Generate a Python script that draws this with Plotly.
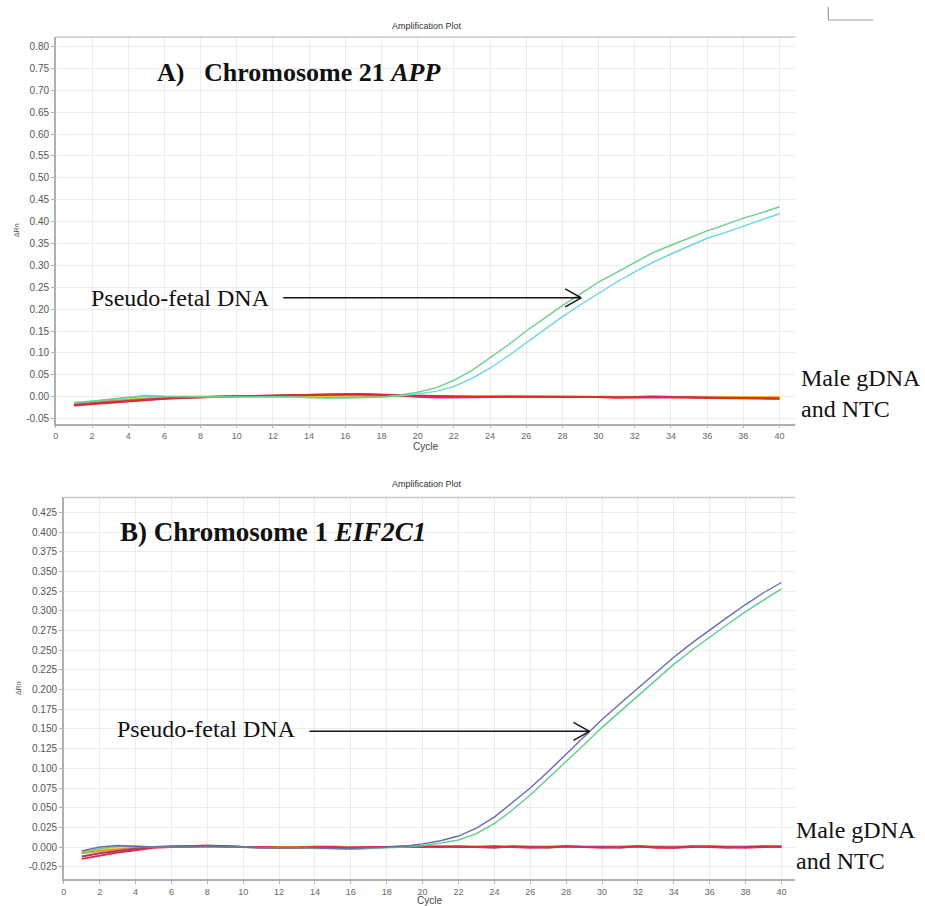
import plotly.graph_objects as go

W, H = 925, 906

cycles = list(range(1, 41))

# ---- Panel A: Chromosome 21 APP (delta Rn per cycle) ----
app_green = [-0.015, -0.011, -0.006, -0.001, 0.003, 0.001, 0.000, 0.000, 0.000, 0.000,
             0.000, 0.001, 0.000, -0.002, -0.003, -0.003, -0.002, -0.001, 0.004, 0.010,
             0.020, 0.037, 0.060, 0.088, 0.118, 0.150, 0.180, 0.208, 0.235, 0.262,
             0.284, 0.306, 0.329, 0.346, 0.363, 0.379, 0.393, 0.408, 0.420, 0.434]
app_cyan = [-0.014, -0.010, -0.006, -0.002, 0.001, 0.000, 0.000, 0.000, 0.000, 0.000,
            0.000, 0.000, -0.001, -0.002, -0.003, -0.002, -0.002, -0.001, 0.002, 0.006,
            0.012, 0.023, 0.042, 0.065, 0.093, 0.123, 0.153, 0.183, 0.210, 0.237,
            0.262, 0.285, 0.307, 0.326, 0.344, 0.362, 0.375, 0.390, 0.404, 0.418]
app_red = [-0.020, -0.017, -0.013, -0.010, -0.007, -0.005, -0.003, -0.001, 0.000, 0.001,
           0.001, 0.002, 0.003, 0.004, 0.005, 0.005, 0.005, 0.004, 0.003, 0.002,
           0.001, 0.000, 0.000, 0.000, 0.000, 0.000, -0.001, -0.001, -0.001, -0.001,
           -0.002, -0.002, -0.001, -0.002, -0.002, -0.003, -0.003, -0.004, -0.004, -0.005]
app_magenta = [-0.018, -0.015, -0.012, -0.009, -0.006, -0.004, -0.002, -0.001, 0.000, 0.001,
               0.002, 0.003, 0.004, 0.005, 0.006, 0.006, 0.006, 0.005, 0.003, 0.000,
               -0.002, -0.002, -0.001, 0.000, 0.000, 0.000, 0.000, -0.001, -0.001, -0.001,
               -0.002, -0.001, 0.000, -0.001, -0.002, -0.002, -0.003, -0.003, -0.003, -0.004]
app_orange = [-0.016, -0.013, -0.010, -0.007, -0.005, -0.003, -0.002, 0.000, 0.000, 0.001,
              0.001, 0.002, 0.002, 0.003, 0.003, 0.003, 0.003, 0.002, 0.002, 0.001,
              0.001, 0.001, 0.001, 0.000, 0.000, 0.000, 0.000, 0.000, -0.001, -0.001,
              -0.001, -0.001, 0.001, -0.001, -0.001, -0.001, -0.002, -0.002, -0.002, -0.002]
app_yellow = [-0.014, -0.011, -0.008, -0.005, -0.003, -0.001, 0.000, 0.000, 0.001, 0.001,
              0.001, 0.001, 0.001, 0.001, 0.001, 0.001, 0.001, 0.001, 0.001, 0.001,
              0.001, 0.000, 0.000, 0.000, 0.000, 0.000, 0.000, 0.000, 0.000, 0.000,
              0.000, 0.000, 0.000, 0.000, 0.000, 0.000, -0.001, -0.001, -0.001, -0.001]

# ---- Panel B: Chromosome 1 EIF2C1 (delta Rn per cycle) ----
eif_blue = [-0.005, 0.000, 0.002, 0.001, 0.000, 0.000, 0.000, 0.001, 0.000, 0.000,
            -0.001, -0.001, -0.001, -0.001, -0.002, -0.002, -0.001, 0.000, 0.001, 0.004,
            0.008, 0.014, 0.024, 0.038, 0.056, 0.075, 0.096, 0.118, 0.140, 0.162,
            0.182, 0.202, 0.222, 0.241, 0.259, 0.276, 0.292, 0.308, 0.323, 0.336]
eif_green = [-0.008, -0.002, 0.001, 0.001, 0.000, 0.000, 0.000, 0.000, 0.000, 0.000,
             -0.001, -0.001, -0.001, -0.002, -0.002, -0.003, -0.002, -0.001, 0.000, 0.002,
             0.005, 0.009, 0.017, 0.030, 0.047, 0.066, 0.087, 0.108, 0.130, 0.152,
             0.172, 0.193, 0.213, 0.232, 0.250, 0.267, 0.283, 0.299, 0.314, 0.328]
eif_red = [-0.015, -0.011, -0.007, -0.004, -0.001, 0.000, 0.001, 0.002, 0.001, 0.000,
           0.000, -0.001, -0.001, 0.000, 0.000, -0.001, 0.000, 0.000, 0.001, 0.000,
           0.001, 0.000, 0.000, 0.001, 0.000, -0.001, 0.000, 0.001, 0.000, -0.001,
           0.000, 0.001, -0.001, -0.001, 0.000, 0.001, 0.000, -0.001, 0.000, 0.001]
eif_purple = [-0.012, -0.008, -0.005, -0.002, 0.000, 0.001, 0.001, 0.001, 0.001, 0.000,
              -0.001, -0.001, -0.001, -0.001, -0.001, -0.002, -0.001, 0.000, 0.000, 0.001,
              0.000, 0.001, 0.000, -0.001, 0.001, 0.000, -0.001, 0.001, 0.000, 0.000,
              -0.001, 0.001, 0.000, -0.001, 0.001, 0.000, -0.001, 0.000, 0.001, 0.000]
eif_orange = [-0.008, -0.005, -0.003, -0.001, 0.000, 0.000, 0.001, 0.001, 0.001, 0.000,
              0.000, 0.000, 0.000, 0.000, 0.000, 0.000, 0.000, 0.000, 0.000, 0.000,
              0.000, 0.000, 0.000, 0.000, 0.000, 0.000, 0.000, 0.000, 0.000, 0.000,
              0.000, 0.000, 0.000, 0.000, 0.000, 0.000, 0.000, 0.000, 0.000, 0.000]
eif_yellow = [-0.006, -0.003, -0.001, 0.000, 0.000, 0.000, 0.000, 0.000, 0.000, 0.000,
              0.000, 0.000, 0.000, 0.001, 0.001, 0.000, 0.000, 0.000, 0.000, 0.000,
              0.000, 0.001, 0.001, 0.001, 0.001, 0.001, 0.001, 0.001, 0.001, 0.001,
              0.001, 0.001, 0.001, 0.001, 0.001, 0.001, 0.001, 0.001, 0.001, 0.001]

x_ticks = list(range(0, 41, 2))
a_yticks = [round(-0.05 + 0.05 * i, 2) for i in range(18)]
b_yticks = [round(-0.025 + 0.025 * i, 3) for i in range(19)]


def px(x):
    return x / W


def py(y):
    return 1 - y / H


fig = go.Figure()

panel_a = [(app_yellow, "#e6d23a", 2), (app_orange, "#f0902c", 2),
           (app_magenta, "#b03a9a", 2), (app_red, "#e02a2a", 2),
           (app_cyan, "#66d8e0", 1.4), (app_green, "#6ccf8a", 1.4)]
for vals, col, w in panel_a:
    fig.add_trace(go.Scatter(x=cycles, y=vals, mode="lines", xaxis="x", yaxis="y",
                             line=dict(color=col, width=w), showlegend=False))

panel_b = [(eif_yellow, "#e6d23a", 2), (eif_orange, "#f0902c", 2),
           (eif_purple, "#a0406a", 2), (eif_red, "#e02a4a", 2),
           (eif_green, "#5ccf86", 1.4), (eif_blue, "#6a6ab4", 1.4)]
for vals, col, w in panel_b:
    fig.add_trace(go.Scatter(x=cycles, y=vals, mode="lines", xaxis="x2", yaxis="y2",
                             line=dict(color=col, width=w), showlegend=False))

tick_font = dict(family="Liberation Sans, Arial", size=10, color="#555555")
xtick_font = dict(family="Liberation Sans, Arial", size=9, color="#666666")
common_x = dict(tickmode="array", tickvals=x_ticks, ticktext=[str(t) for t in x_ticks],
                showgrid=True, gridcolor="#ececec", gridwidth=1, zeroline=False,
                showline=True, linecolor="#b0b0b0", linewidth=1.5,
                ticks="outside", ticklen=3, tickcolor="#b0b0b0", tickfont=xtick_font)
common_y = dict(showgrid=True, gridcolor="#ececec", gridwidth=1, zeroline=False,
                showline=True, linecolor="#b0b0b0", linewidth=1.5,
                ticks="outside", ticklen=3, tickcolor="#b0b0b0", tickfont=tick_font)

fig.update_layout(
    width=W, height=H,
    margin=dict(l=0, r=0, t=0, b=0),
    paper_bgcolor="white", plot_bgcolor="white",
    xaxis=dict(domain=[px(53), px(795)], range=[0, 40.88], anchor="y",
               title=dict(text="Cycle", font=dict(family="Liberation Sans, Arial", size=10,
                                                  color="#444444"), standoff=2),
               **common_x),
    yaxis=dict(domain=[py(424), py(37)], range=[-0.0614, 0.822], anchor="x",
               tickmode="array", tickvals=a_yticks,
               ticktext=[f"{v:.2f}" for v in a_yticks],
               title=dict(text="ΔRn", font=dict(family="Liberation Sans, Arial", size=7,
                                                color="#555555"), standoff=6),
               **common_y),
    xaxis2=dict(domain=[px(61), px(795)], range=[0, 40.78], anchor="y2",
                title=dict(text="Cycle", font=dict(family="Liberation Sans, Arial", size=10,
                                                   color="#444444"), standoff=0),
                **common_x),
    yaxis2=dict(domain=[py(880), py(498)], range=[-0.0406, 0.444], anchor="x2",
                tickmode="array", tickvals=b_yticks,
                ticktext=[f"{v:.3f}" for v in b_yticks],
                title=dict(text="ΔRn", font=dict(family="Liberation Sans, Arial", size=7,
                                                 color="#555555"), standoff=6),
                **common_y),
)

serif = "Liberation Serif, Times New Roman, serif"
nb = "\u00a0"
annotations = [
    dict(x=px(425), y=py(26), text="Amplification Plot",
         font=dict(family="Liberation Sans, Arial", size=9, color="#333333")),
    dict(x=px(425), y=py(485), text="Amplification Plot",
         font=dict(family="Liberation Sans, Arial", size=9, color="#333333")),
    dict(x=px(152), y=py(73), xanchor="left",
         text=f"<b>A){nb}{nb}{nb}Chromosome 21 <i>APP</i></b>",
         font=dict(family=serif, size=26, color="#111111")),
    dict(x=px(115), y=py(533), xanchor="left",
         text="<b>B) Chromosome 1 <i>EIF2C1</i></b>",
         font=dict(family=serif, size=27, color="#111111")),
    dict(x=px(86), y=py(298), xanchor="left", text="Pseudo-fetal DNA",
         font=dict(family=serif, size=24, color="#111111")),
    dict(x=px(112), y=py(730), xanchor="left", text="Pseudo-fetal DNA",
         font=dict(family=serif, size=24, color="#111111")),
    dict(x=px(799), y=py(394), xanchor="left", align="left",
         text="Male gDNA<br>and NTC",
         font=dict(family=serif, size=24, color="#111111")),
    dict(x=px(794), y=py(846), xanchor="left", align="left",
         text="Male gDNA<br>and NTC",
         font=dict(family=serif, size=24, color="#111111")),
]
for a in annotations:
    a.update(xref="paper", yref="paper", showarrow=False, yanchor="middle")
    a.setdefault("xanchor", "center")
fig.update_layout(annotations=annotations)

shapes = []
# Top frame line of each panel
for xr, yr in (("x domain", "y domain"), ("x2 domain", "y2 domain")):
    shapes.append(dict(type="line", xref=xr, yref=yr, x0=0, x1=1, y0=1, y1=1,
                       line=dict(color="#c8c8c8", width=1.5)))


def arrow(xa, ya, length, xref, yref):
    # shaft plus an open chevron head, sized in pixels around the tip
    out = []
    for x0, y0 in ((-length, 0), (-16, 9), (-16, -9)):
        out.append(dict(type="line", xref=xref, yref=yref,
                        xsizemode="pixel", ysizemode="pixel",
                        xanchor=xa, yanchor=ya, x0=x0, y0=y0, x1=0, y1=0,
                        line=dict(color="#111111", width=1.4)))
    return out


shapes += arrow(29.04, 0.226, 298, "x", "y")
shapes += arrow(29.3, 0.147, 280, "x2", "y2")

# Small corner mark in the top-right margin
shapes.append(dict(type="line", xref="paper", yref="paper",
                   x0=px(828), x1=px(828), y0=py(7), y1=py(20),
                   line=dict(color="#9a9a9a", width=1.2)))
shapes.append(dict(type="line", xref="paper", yref="paper",
                   x0=px(828), x1=px(873), y0=py(20), y1=py(20),
                   line=dict(color="#9a9a9a", width=1.2)))
fig.update_layout(shapes=shapes)

fig.write_html("out.html")
